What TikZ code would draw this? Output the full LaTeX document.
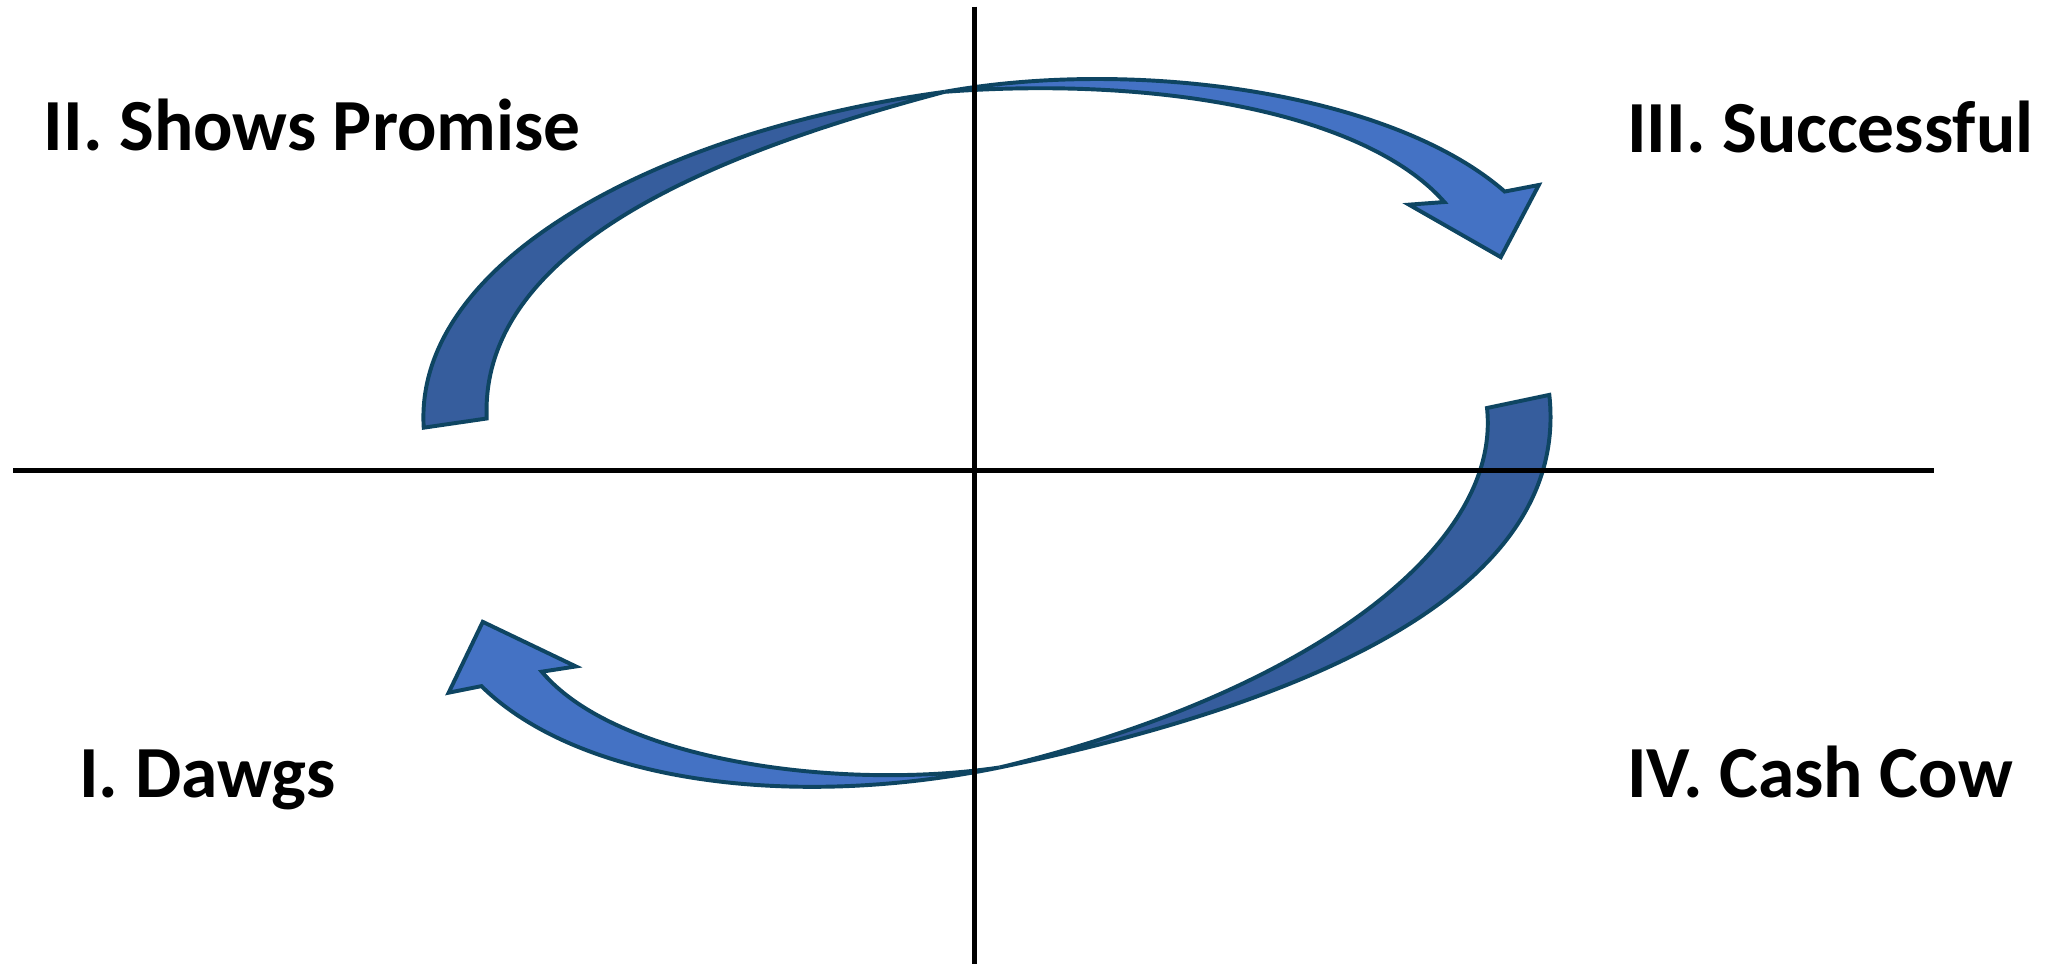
\documentclass[tikz,border=0pt]{standalone}
\usepackage{fontspec}
\setmainfont{Carlito}
\definecolor{edgeblue}{RGB}{14,69,98}
\definecolor{backblue}{RGB}{54,93,157}
\definecolor{frontblue}{RGB}{68,114,196}
\begin{document}
\begin{tikzpicture}[x=0.5pt,y=-0.5pt,
  axis/.style={line width=1.9pt, black},
  backpart/.style={fill=backblue, draw=edgeblue, line width=1.5pt, line join=miter},
  frontpart/.style={fill=frontblue, draw=edgeblue, line width=1.5pt, line join=miter},
  quadlabel/.style={font=\bfseries\fontsize{28}{34}\selectfont, anchor=base west, inner sep=0pt}]
\useasboundingbox (0,0) rectangle (1568,735);
% upper arrow (II -> III)
\draw[backpart] (323,326) .. controls (315,200) and (500,100) .. (720,70)
  .. controls (570,110) and (365,180) .. (371,319) -- cycle;
\draw[frontpart] (720,70) .. controls (865,44) and (1060,70) .. (1147,146)
  -- (1173,141) -- (1144,196) -- (1074,156) -- (1101,154)
  .. controls (1040,85) and (880,58) .. (720,70) -- cycle;
% lower arrow (IV -> I)
\draw[backpart] (1181,301) .. controls (1195,430) and (1050,525) .. (762,585)
  .. controls (990,530) and (1145,420) .. (1133.5,311) -- cycle;
\draw[frontpart] (762,585) .. controls (600,618) and (440,595) .. (367,523)
  -- (342,528) -- (368,474) -- (439,508) -- (413,512)
  .. controls (470,580) and (640,603) .. (762,585) -- cycle;
% axes
\coordinate (vtop) at (743,5);
\coordinate (vbot) at (743,735);
\coordinate (hleft) at (10,359);
\coordinate (hright) at (1474,359);
\draw[axis] (vtop) -- (vbot);
\draw[axis] (hleft) -- (hright);
% labels
\node[quadlabel] (q2) at (33,115) {II. Shows Promise};
\node[quadlabel] (q3) at (1240,116) {III. Successful};
\node[quadlabel] (q1) at (60,608) {I. Dawgs};
\node[quadlabel] (q4) at (1240,608) {IV. Cash Cow};
\end{tikzpicture}
\end{document}
